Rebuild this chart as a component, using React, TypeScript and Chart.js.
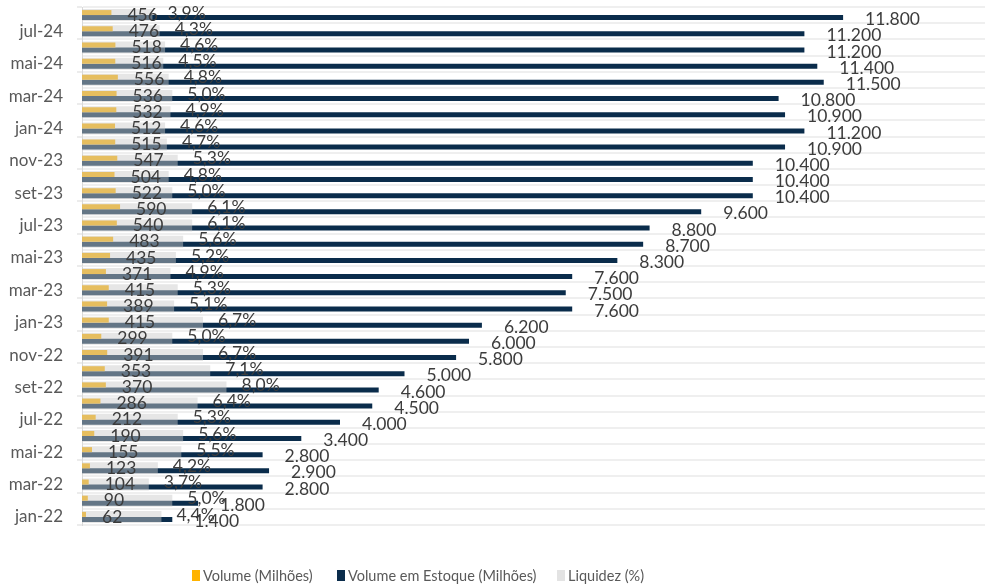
import { useEffect, useRef } from 'react';
import { Chart, registerables } from 'chart.js';

Chart.register(...registerables);

const categories = [
  'ago-24', 'jul-24', 'jun-24', 'mai-24', 'abr-24', 'mar-24', 'fev-24', 'jan-24',
  'dez-23', 'nov-23', 'out-23', 'set-23', 'ago-23', 'jul-23', 'jun-23', 'mai-23',
  'abr-23', 'mar-23', 'fev-23', 'jan-23', 'dez-22', 'nov-22', 'out-22', 'set-22',
  'ago-22', 'jul-22', 'jun-22', 'mai-22', 'abr-22', 'mar-22', 'fev-22', 'jan-22',
];

const volume = [
  456, 476, 518, 516, 556, 536, 532, 512, 515, 547, 504, 522, 590, 540, 483, 435,
  371, 415, 389, 415, 299, 391, 353, 370, 286, 212, 190, 155, 123, 104, 90, 62,
];

const estoque = [
  11800, 11200, 11200, 11400, 11500, 10800, 10900, 11200, 10900, 10400, 10400, 10400,
  9600, 8800, 8700, 8300, 7600, 7500, 7600, 6200, 6000, 5800, 5000, 4600, 4500, 4000,
  3400, 2800, 2900, 2800, 1800, 1400,
];

const liquidez = [
  3.9, 4.3, 4.6, 4.5, 4.8, 5.0, 4.9, 4.6, 4.7, 5.3, 4.8, 5.0, 6.1, 6.1, 5.6, 5.2,
  4.9, 5.3, 5.1, 6.7, 5.0, 6.7, 7.1, 8.0, 6.4, 5.3, 5.6, 5.5, 4.2, 3.7, 5.0, 4.4,
];

const seriesNames = ['Volume (Milhões)', 'Volume em Estoque (Milhões)', 'Liquidez (%)'];

const COLOR_VOLUME = '#FFB300';
const COLOR_ESTOQUE = '#0A2C4B';
const COLOR_LIQ = 'rgba(201,201,201,0.47)';
const COLOR_LIQ_LEGEND = '#E3E3E3';
const FONT = 'Lato, "Open Sans", sans-serif';

function fmtThousands(v: number): string {
  const s = Math.round(v).toString();
  return s.replace(/\B(?=(\d{3})+(?!\d))/g, '.');
}
function fmtPct(v: number): string {
  return v.toFixed(1).replace('.', ',') + '%';
}

const valueLabels = {
  id: 'valueLabels',
  afterDatasetsDraw(chart: any) {
    const ctx = chart.ctx;
    const yScale = chart.scales.y;
    ctx.save();
    ctx.font = `17.5px ${FONT}`;
    ctx.fillStyle = '#3c3c3c';
    ctx.textBaseline = 'middle';
    ctx.textAlign = 'left';
    chart.data.datasets.forEach((ds: any, di: number) => {
      const meta = chart.getDatasetMeta(di);
      meta.data.forEach((bar: any, i: number) => {
        const cy = yScale.getPixelForValue(i);
        const v = ds.data[i];
        if (ds.key === 'volume') {
          ctx.fillText(String(v), bar.x + 16, cy);
        } else if (ds.key === 'estoque') {
          ctx.fillText(fmtThousands(v), bar.x + 22, cy + 4.5);
        } else {
          ctx.fillText(fmtPct(v), bar.x + 15, cy - 2);
        }
      });
    });
    ctx.restore();
  },
};

const customLegend = {
  id: 'customLegend',
  afterDraw(chart: any) {
    const ctx = chart.ctx;
    const items = [
      { x: 192, color: COLOR_VOLUME, text: seriesNames[0] },
      { x: 337, color: COLOR_ESTOQUE, text: seriesNames[1] },
      { x: 557, color: COLOR_LIQ_LEGEND, text: seriesNames[2] },
    ];
    ctx.save();
    ctx.font = `14.5px ${FONT}`;
    ctx.textBaseline = 'middle';
    ctx.textAlign = 'left';
    items.forEach((it) => {
      ctx.fillStyle = it.color;
      ctx.fillRect(it.x, 570, 8, 11);
      ctx.fillStyle = '#595959';
      ctx.fillText(it.text, it.x + 11, 576);
    });
    ctx.restore();
  },
};

export default function App() {
  const canvasRef = useRef<HTMLCanvasElement | null>(null);

  useEffect(() => {
    if (!canvasRef.current) return;
    const chart = new Chart(canvasRef.current, {
      type: 'bar',
      data: {
        labels: categories,
        datasets: [
          {
            key: 'volume',
            label: seriesNames[0],
            data: volume,
            backgroundColor: COLOR_VOLUME,
            xAxisID: 'x',
            categoryPercentage: 0.62,
            barPercentage: 1,
            order: 1,
          } as any,
          {
            key: 'estoque',
            label: seriesNames[1],
            data: estoque,
            backgroundColor: COLOR_ESTOQUE,
            xAxisID: 'x',
            categoryPercentage: 0.62,
            barPercentage: 1,
            order: 1,
          } as any,
          {
            key: 'liquidez',
            label: seriesNames[2],
            data: liquidez,
            backgroundColor: COLOR_LIQ,
            xAxisID: 'x2',
            grouped: false,
            categoryPercentage: 0.74,
            barPercentage: 1,
            order: 0,
          } as any,
        ],
      },
      options: {
        indexAxis: 'y',
        animation: false,
        responsive: true,
        maintainAspectRatio: false,
        events: [],
        layout: { padding: { left: 0, top: 7, right: 7, bottom: 60 } },
        plugins: {
          legend: { display: false },
          tooltip: { enabled: false },
        },
        scales: {
          x: { type: 'linear', min: 0, max: 14000, display: false },
          x2: { type: 'linear', min: 0, max: 50, display: false, position: 'top' },
          y: {
            type: 'category',
            offset: true,
            afterFit: (s: any) => {
              s.width = 82;
              s.paddingTop = 0;
              s.paddingBottom = 0;
            },
            border: { display: true, color: '#D9D9D9', width: 1 },
            grid: {
              offset: true,
              color: '#EFEFEF',
              lineWidth: 2,
              drawTicks: true,
              tickLength: 5,
              tickWidth: 1,
              tickColor: (c: any) =>
                c.index === undefined || c.index % 2 === 0 ? '#D9D9D9' : 'rgba(0,0,0,0)',
            },
            ticks: {
              autoSkip: false,
              padding: 14,
              color: '#595959',
              font: { family: FONT, size: 17 },
              callback: (_v: any, i: number) => (i % 2 === 1 ? categories[i] : ''),
            },
          },
        },
      },
      plugins: [valueLabels, customLegend],
    } as any);

    if ((document as any).fonts && (document as any).fonts.load) {
      (document as any).fonts.load(`17px Lato`).then(() => chart.update()).catch(() => {});
    }

    return () => chart.destroy();
  }, []);

  return (
    <div style={{ position: 'absolute', left: 0, top: 0, width: 992, height: 585, background: '#fff' }}>
      <canvas ref={canvasRef} />
    </div>
  );
}
